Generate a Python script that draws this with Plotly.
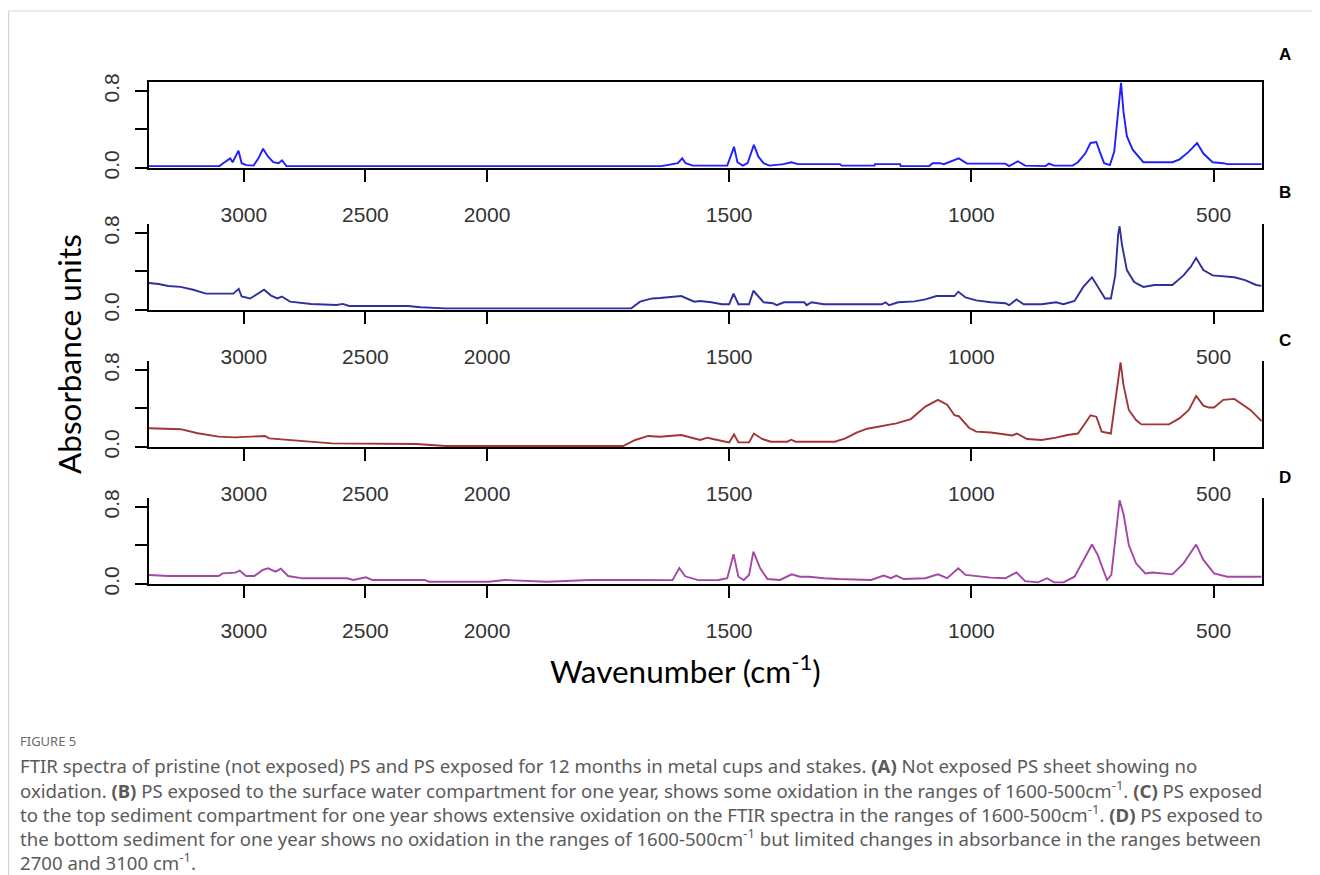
import subprocess
import plotly.graph_objects as go

W, H = 1320, 875

# ---------------- data ----------------
wn_a = [3391, 3100, 3085, 3056, 3046, 3022, 3009, 2990, 2960, 2940, 2921, 2901, 2879, 2857, 2843, 2825,
        2000, 1640, 1606, 1597, 1590, 1575, 1504, 1496, 1490, 1483, 1472, 1462, 1449, 1440, 1429, 1417,
        1388, 1372, 1358, 1271, 1268, 1200, 1199, 1147, 1146, 1087, 1080, 1065, 1057, 1026, 1009, 930,
        922, 904, 889, 847, 840, 829, 791, 780, 765, 754, 742, 735, 726, 714, 705, 697, 691, 686, 679,
        667, 645, 585, 570, 551, 534, 521, 502, 480, 472, 401]
abs_a = [0.02, 0.02, 0.05, 0.10, 0.06, 0.18, 0.05, 0.03, 0.025, 0.10, 0.20, 0.12, 0.06, 0.05, 0.08, 0.02,
         0.02, 0.02, 0.05, 0.10, 0.05, 0.025, 0.025, 0.15, 0.22, 0.06, 0.025, 0.05, 0.24, 0.12, 0.05, 0.025,
         0.04, 0.06, 0.04, 0.04, 0.025, 0.025, 0.04, 0.04, 0.02, 0.02, 0.05, 0.05, 0.04, 0.10, 0.045, 0.045,
         0.02, 0.07, 0.025, 0.02, 0.045, 0.025, 0.025, 0.06, 0.15, 0.26, 0.27, 0.17, 0.05, 0.03, 0.17, 0.585,
         0.885, 0.585, 0.33, 0.19, 0.06, 0.06, 0.09, 0.17, 0.26, 0.15, 0.06, 0.05, 0.04, 0.04]

wn_b = [3391, 3350, 3311, 3260, 3208, 3156, 3104, 3043, 3021, 3009, 2974, 2948, 2917, 2888, 2862, 2844,
        2810, 2723, 2619, 2593, 2567, 2325, 2273, 2170, 1702, 1684, 1659, 1643, 1599, 1572, 1560, 1537,
        1515, 1500, 1491, 1481, 1459, 1450, 1429, 1410, 1402, 1387, 1345, 1340, 1330, 1305, 1185, 1177,
        1170, 1151, 1117, 1095, 1072, 1035, 1027, 1012, 990, 960, 930, 922, 907, 892, 855, 825, 810, 787,
        769, 751, 739, 724, 712, 703, 697, 694, 689, 679, 664, 645, 622, 585, 562, 547, 536, 521, 502,
        480, 457, 435, 412, 401]
abs_b = [0.28, 0.27, 0.25, 0.24, 0.21, 0.17, 0.17, 0.17, 0.22, 0.14, 0.12, 0.16, 0.21, 0.15, 0.12, 0.14,
         0.087, 0.063, 0.052, 0.063, 0.042, 0.042, 0.028, 0.017, 0.017, 0.087, 0.12, 0.125, 0.145, 0.086,
         0.094, 0.08, 0.06, 0.06, 0.17, 0.06, 0.06, 0.20, 0.08, 0.07, 0.05, 0.08, 0.08, 0.05, 0.08, 0.06,
         0.06, 0.08, 0.05, 0.08, 0.09, 0.11, 0.145, 0.145, 0.19, 0.13, 0.10, 0.08, 0.07, 0.05, 0.11, 0.06,
         0.06, 0.08, 0.06, 0.094, 0.24, 0.34, 0.24, 0.12, 0.12, 0.36, 0.78, 0.87, 0.675, 0.415, 0.29, 0.24,
         0.26, 0.26, 0.36, 0.45, 0.54, 0.415, 0.36, 0.35, 0.34, 0.31, 0.26, 0.25]

wn_c = [3391, 3330, 3260, 3190, 3104, 3035, 2913, 2896, 2810, 2637, 2291, 2170, 1719, 1694, 1667, 1643,
        1599, 1560, 1545, 1534, 1515, 1500, 1490, 1481, 1459, 1449, 1432, 1414, 1380, 1372, 1363, 1282,
        1260, 1237, 1215, 1185, 1155, 1125, 1095, 1069, 1050, 1035, 1026, 1005, 990, 960, 937, 915, 906,
        885, 855, 825, 802, 780, 765, 754, 742, 731, 712, 705, 697, 692, 686, 675, 660, 649, 592, 570,
        551, 536, 521, 510, 499, 480, 457, 442, 424, 401]
abs_c = [0.195, 0.19, 0.185, 0.143, 0.108, 0.10, 0.115, 0.09, 0.073, 0.038, 0.031, 0.01, 0.01, 0.073,
         0.115, 0.107, 0.125, 0.073, 0.097, 0.083, 0.062, 0.048, 0.13, 0.048, 0.048, 0.14, 0.083, 0.055,
         0.055, 0.076, 0.055, 0.055, 0.09, 0.15, 0.19, 0.22, 0.246, 0.29, 0.42, 0.49, 0.44, 0.33, 0.32,
         0.20, 0.16, 0.15, 0.135, 0.12, 0.14, 0.083, 0.073, 0.097, 0.125, 0.14, 0.246, 0.33, 0.315, 0.16,
         0.14, 0.40, 0.75, 0.88, 0.645, 0.385, 0.28, 0.235, 0.235, 0.30, 0.385, 0.53, 0.43, 0.41, 0.41,
         0.49, 0.50, 0.45, 0.385, 0.27]

wn_d = [3391, 3311, 3173, 3104, 3087, 3035, 3017, 2991, 2957, 2922, 2900, 2870, 2848, 2818, 2758, 2576,
        2550, 2498, 2472, 2256, 2239, 1997, 1963, 1876, 1789, 1702, 1617, 1603, 1591, 1564, 1522, 1504,
        1491, 1481, 1470, 1459, 1450, 1436, 1421, 1395, 1371, 1354, 1335, 1305, 1275, 1207, 1181, 1166,
        1155, 1140, 1095, 1069, 1050, 1027, 1012, 960, 930, 907, 889, 862, 844, 829, 810, 787, 769, 751,
        739, 720, 711, 701, 694, 686, 675, 660, 641, 626, 585, 562, 547, 536, 521, 499, 472, 401]
abs_d = [0.094, 0.083, 0.083, 0.083, 0.11, 0.118, 0.139, 0.083, 0.083, 0.146, 0.163, 0.129, 0.16, 0.083,
         0.059, 0.059, 0.042, 0.07, 0.042, 0.042, 0.024, 0.024, 0.042, 0.024, 0.042, 0.042, 0.04, 0.166,
         0.08, 0.04, 0.042, 0.06, 0.31, 0.076, 0.042, 0.094, 0.336, 0.163, 0.052, 0.042, 0.10, 0.076,
         0.076, 0.06, 0.052, 0.042, 0.087, 0.06, 0.087, 0.052, 0.06, 0.10, 0.06, 0.163, 0.094, 0.066,
         0.06, 0.12, 0.03, 0.017, 0.06, 0.017, 0.017, 0.076, 0.25, 0.41, 0.30, 0.042, 0.094, 0.54, 0.87,
         0.73, 0.405, 0.215, 0.11, 0.12, 0.10, 0.215, 0.32, 0.41, 0.25, 0.11, 0.076, 0.076]

panel_labels = ["A", "B", "C", "D"]
left_ticks = [3000, 2500]
right_ticks = [2000, 1500, 1000, 500]
y_ticks = [0.0, 0.4, 0.8]
y_ticktext = ["0.0", "", "0.8"]

caption_title = "FIGURE 5"
caption_lines = [
    "FTIR spectra of pristine (not exposed) PS and PS exposed for 12 months in metal cups and stakes. <b>(A)</b> Not exposed PS sheet showing no",
    "oxidation. <b>(B)</b> PS exposed to the surface water compartment for one year, shows some oxidation in the ranges of 1600-500cm<sup>-1</sup>. <b>(C)</b> PS exposed",
    "to the top sediment compartment for one year shows extensive oxidation on the FTIR spectra in the ranges of 1600-500cm<sup>-1</sup>. <b>(D)</b> PS exposed to",
    "the bottom sediment for one year shows no oxidation in the ranges of 1600-500cm<sup>-1</sup> but limited changes in absorbance in the ranges between",
    "2700 and 3100 cm<sup>-1</sup>.",
]

# ---------------- styling / geometry ----------------
series = [(wn_a, abs_a), (wn_b, abs_b), (wn_c, abs_c), (wn_d, abs_d)]
colors = ["#1f1fff", "#2f2f9e", "#a23434", "#a446a8"]
zero_px = [168, 310, 447, 584]
X_LEFT, X_SPLIT, X_RIGHT = 149, 487, 1262
PX_PER_UNIT = 96.25
Y_RANGE = [0, 0.89]
WN_LEFT = [3390, 2000]
WN_RIGHT = [2000, 400]
PAGE_OFFSET = 8  # the page body margin shifts the figure by 8 px


def font_available(name):
    try:
        out = subprocess.run(["fc-list", ":", "family"], capture_output=True, text=True, timeout=10).stdout
        return name.lower() in out.lower()
    except Exception:
        return False


if font_available("Liberation Sans Narrow"):
    TICK_FONT = dict(family="Liberation Sans Narrow", size=25, color="#333333")
else:
    TICK_FONT = dict(family="Liberation Sans, Arial, sans-serif", size=21, color="#333333")


def fx(p):
    return (p - PAGE_OFFSET) / W


def fy(p):
    return 1 - (p - PAGE_OFFSET) / H


fig = go.Figure()
layout = {}

for i, (wn, ab) in enumerate(series):
    kl, kr = 2 * i + 1, 2 * i + 2
    for k in (kl, kr):
        fig.add_trace(go.Scatter(
            x=wn, y=ab, mode="lines",
            line=dict(color=colors[i], width=1.9),
            xaxis="x" if k == 1 else f"x{k}",
            yaxis="y" if k == 1 else f"y{k}",
            showlegend=False, hoverinfo="skip"))

    ydom = [fy(zero_px[i]), fy(zero_px[i] - Y_RANGE[1] * PX_PER_UNIT)]
    mirror = (i == 0)
    common_x = dict(showgrid=False, zeroline=False, showline=True, linecolor="black", linewidth=2,
                    ticks="outside", ticklen=12, tickwidth=1.5, tickcolor="black", automargin=False,
                    tickfont=TICK_FONT, ticklabelstandoff=15, mirror=mirror, fixedrange=True)
    xl_name = "xaxis" if kl == 1 else f"xaxis{kl}"
    layout[xl_name] = dict(common_x, domain=[fx(X_LEFT), fx(X_SPLIT)], range=WN_LEFT,
                           tickmode="array", tickvals=left_ticks,
                           ticktext=[str(t) for t in left_ticks],
                           anchor="y" if kl == 1 else f"y{kl}")
    layout[f"xaxis{kr}"] = dict(common_x, domain=[fx(X_SPLIT), fx(X_RIGHT)], range=WN_RIGHT,
                                tickmode="array", tickvals=right_ticks,
                                ticktext=[str(t) for t in right_ticks],
                                anchor=f"y{kr}")
    yl_name = "yaxis" if kl == 1 else f"yaxis{kl}"
    layout[yl_name] = dict(domain=ydom, range=Y_RANGE, showgrid=False, zeroline=False,
                           showline=True, linecolor="black", linewidth=2, automargin=False,
                           ticks="outside", ticklen=12, tickwidth=1.5, tickcolor="black",
                           tickmode="array", tickvals=y_ticks, ticktext=y_ticktext,
                           tickangle=-90, tickfont=TICK_FONT, ticklabelstandoff=8,
                           anchor="x" if kl == 1 else f"x{kl}", fixedrange=True)
    layout[f"yaxis{kr}"] = dict(domain=ydom, range=Y_RANGE, showgrid=False, zeroline=False,
                                showline=True, linecolor="black", linewidth=2, automargin=False,
                                ticks="", showticklabels=False, side="right",
                                anchor=f"x{kr}", fixedrange=True)

annotations = []
label_px = [54, 193, 340, 477]
for lab, yp in zip(panel_labels, label_px):
    annotations.append(dict(text=f"<b>{lab}</b>", x=fx(1285), y=fy(yp), xref="paper", yref="paper",
                            showarrow=False, xanchor="center", yanchor="middle",
                            font=dict(family="Liberation Sans, Arial, sans-serif", size=17, color="black")))

annotations.append(dict(text="Absorbance units", x=fx(69), y=fy(354), xref="paper", yref="paper",
                        showarrow=False, textangle=-90, xanchor="center", yanchor="middle",
                        font=dict(family="Lato, Noto Sans, sans-serif", size=31.5, color="black")))
annotations.append(dict(text="Wavenumber (cm<sup>-1</sup>)", x=fx(685), y=fy(669), xref="paper", yref="paper",
                        showarrow=False, xanchor="center", yanchor="middle",
                        font=dict(family="Lato, Noto Sans, sans-serif", size=31.5, color="black")))

annotations.append(dict(text=caption_title, x=fx(18), y=fy(741), xref="paper", yref="paper",
                        showarrow=False, xanchor="left", yanchor="middle",
                        font=dict(family="Noto Sans, sans-serif", size=13, color="#6a6a6a")))
for j, line in enumerate(caption_lines):
    annotations.append(dict(text=line, x=fx(18), y=fy(765 + 24.2 * j), xref="paper", yref="paper",
                            showarrow=False, xanchor="left", yanchor="middle",
                            font=dict(family="Noto Sans, sans-serif", size=18.6, color="#5a5a5a")))

BORDER_X = PAGE_OFFSET + 0.6
shapes = [
    dict(type="line", xref="paper", yref="paper", x0=fx(BORDER_X), x1=1, y0=fy(11), y1=fy(11),
         line=dict(color="#d4d4d4", width=1.2)),
    dict(type="line", xref="paper", yref="paper", x0=fx(BORDER_X), x1=fx(BORDER_X), y0=fy(11), y1=0,
         line=dict(color="#d4d4d4", width=1.2)),
]

fig.update_layout(template="none", width=W, height=H,
                  margin=dict(l=0, r=0, t=0, b=0, pad=0, autoexpand=False),
                  paper_bgcolor="white", plot_bgcolor="white",
                  annotations=annotations, shapes=shapes, **layout)

fig.write_html("out.html")
